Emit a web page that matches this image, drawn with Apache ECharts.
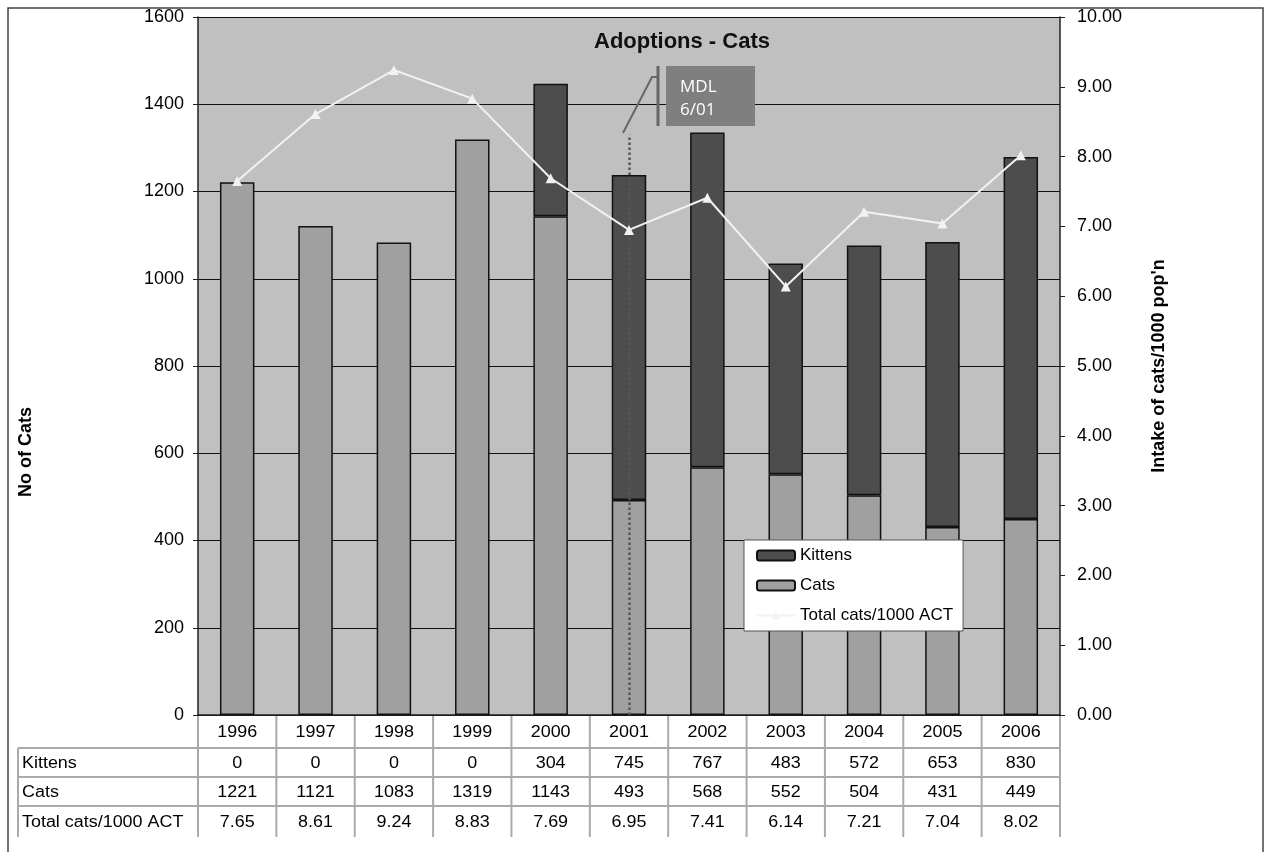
<!DOCTYPE html>
<html>
<head>
<meta charset="utf-8">
<script src="https://cdn.jsdelivr.net/npm/echarts@6/dist/echarts.min.js"></script>
<style>
    html, body { margin: 0; padding: 0; background: #fff; }
    #chart { width: 1265px; height: 852px; }
</style>
</head>
<body>
<div id="chart"></div>
<script>
    // 数据
    var years = ['1996', '1997', '1998', '1999', '2000', '2001', '2002', '2003', '2004', '2005', '2006'];
    var kittens = [0, 0, 0, 0, 304, 745, 767, 483, 572, 653, 830];
    var cats = [1221, 1121, 1083, 1319, 1143, 493, 568, 552, 504, 431, 449];
    var totalPer1000 = [7.65, 8.61, 9.24, 8.83, 7.69, 6.95, 7.41, 6.14, 7.21, 7.04, 8.02];
    var tableRows = ['Kittens', 'Cats', 'Total cats/1000 ACT'];

    var FONT = '"Liberation Sans", Arial, sans-serif';
    var gridLeft = 198, gridRight = 1060, gridTop = 17, gridBottom = 715;
    var colW = (gridRight - gridLeft) / years.length;

    var myChart = echarts.init(document.getElementById('chart'));

    // 数据表 (图表下方)
    var tableGraphics = [];
    var rowTops = [716, 748, 777, 806];
    var rowBottoms = [748, 777, 806, 837];
    var rowValues = [years, kittens, cats, totalPer1000.map(function (v) { return v.toFixed(2); })];
    var lineStyle = { stroke: '#aaaaaa', lineWidth: 2 };
    // 横线
    tableGraphics.push({ type: 'line', shape: { x1: gridLeft, y1: 748, x2: gridRight, y2: 748 }, style: lineStyle });
    [748, 777, 806].forEach(function (y) {
        tableGraphics.push({ type: 'line', shape: { x1: 18, y1: y, x2: gridRight, y2: y }, style: lineStyle });
    });
    // 竖线
    tableGraphics.push({ type: 'line', shape: { x1: 18, y1: 748, x2: 18, y2: 837 }, style: lineStyle });
    for (var c = 0; c <= years.length; c++) {
        var x = gridLeft + c * colW;
        tableGraphics.push({ type: 'line', shape: { x1: x, y1: 716, x2: x, y2: 837 }, style: lineStyle });
    }
    rowValues.forEach(function (vals, r) {
        var cy = (rowTops[r] + rowBottoms[r]) / 2 + 1;
        if (r > 0) {
            tableGraphics.push({
                type: 'text', x: 22, y: cy, scaleX: 1.12,
                style: { text: tableRows[r - 1], font: '16px ' + FONT, fill: '#000', textVerticalAlign: 'middle' }
            });
        }
        vals.forEach(function (v, i) {
            tableGraphics.push({
                type: 'text', x: gridLeft + (i + 0.5) * colW, y: cy, scaleX: 1.12,
                style: { text: String(v), font: '16px ' + FONT, fill: '#000', textAlign: 'center', textVerticalAlign: 'middle' }
            });
        });
    });

    var option = {
        backgroundColor: '#ffffff',
        textStyle: { fontFamily: FONT },
        animation: false,
        title: {
            text: 'Adoptions - Cats',
            left: 677,
            top: 26,
            textAlign: 'center',
            textStyle: { fontSize: 22, fontWeight: 'bold', color: '#111', fontFamily: FONT }
        },
        legend: {
            orient: 'vertical',
            left: 744,
            top: 540,
            padding: [7, 10, 7, 12],
            itemGap: 13,
            itemWidth: 38,
            itemHeight: 10,
            backgroundColor: '#ffffff',
            borderColor: '#555555',
            borderWidth: 1,
            textStyle: { fontSize: 17, color: '#000', fontFamily: FONT },
            data: ['Kittens', 'Cats', 'Total cats/1000 ACT']
        },
        grid: {
            left: gridLeft,
            right: 1265 - gridRight,
            top: gridTop,
            bottom: 852 - gridBottom,
            show: true,
            backgroundColor: '#c0c0c0',
            borderWidth: 0
        },
        xAxis: {
            type: 'category',
            data: years,
            axisLine: { lineStyle: { color: '#222', width: 1.5 } },
            axisTick: { show: false },
            axisLabel: { show: false }
        },
        yAxis: [
            {
                type: 'value',
                min: 0,
                max: 1600,
                interval: 200,
                position: 'left',
                axisLine: { show: true, lineStyle: { color: '#222', width: 1.5 } },
                axisTick: { show: true, length: 5, lineStyle: { color: '#222' } },
                axisLabel: { fontSize: 18, color: '#000', margin: 14, formatter: function (v) { return String(v); } },
                splitLine: { lineStyle: { color: '#111', width: 1 } }
            },
            {
                type: 'value',
                min: 0,
                max: 10,
                interval: 1,
                position: 'right',
                name: "Intake of cats/1000 pop'n",
                nameLocation: 'middle',
                nameGap: 90,
                nameTextStyle: { fontSize: 18, fontWeight: 'bold', color: '#000' },
                axisLine: { show: true, lineStyle: { color: '#222', width: 1.5 } },
                axisTick: { show: true, length: 5, lineStyle: { color: '#222' } },
                axisLabel: { fontSize: 18, color: '#000', margin: 17, formatter: function (v) { return v.toFixed(2); } },
                splitLine: { show: false }
            }
        ],
        series: [
            {
                name: 'Cats',
                type: 'bar',
                stack: 'total',
                barWidth: '44%',
                data: cats,
                itemStyle: { color: '#a0a0a0', borderColor: '#111', borderWidth: 1.5 },
                markLine: {
                    silent: true,
                    symbol: 'none',
                    label: { show: false },
                    lineStyle: { color: '#555', type: 'dotted', width: 2.5 },
                    data: [[{ coord: ['2001', 0] }, { coord: ['2001', 1330] }]]
                }
            },
            {
                name: 'Kittens',
                type: 'bar',
                stack: 'total',
                barWidth: '44%',
                // 0 值不画 (避免零高度边框)
                data: kittens.map(function (v) { return v === 0 ? '-' : v; }),
                itemStyle: { color: '#4d4d4d', borderColor: '#111', borderWidth: 1.5 }
            },
            {
                name: 'Total cats/1000 ACT',
                type: 'line',
                yAxisIndex: 1,
                data: totalPer1000,
                symbol: 'triangle',
                symbolSize: 10,
                z: 5,
                lineStyle: { color: '#f2f2f2', width: 2 },
                itemStyle: { color: '#f2f2f2' }
            }
        ],
        graphic: [
            // 外框
            { type: 'rect', shape: { x: 8, y: 8, width: 1255, height: 860 }, style: { fill: 'none', stroke: '#444', lineWidth: 1.5 }, z: 0 },
            // 左轴标题
            {
                type: 'text', x: 26, y: 452, rotation: Math.PI / 2,
                style: { text: 'No of Cats', font: 'bold 18px ' + FONT, fill: '#000', textAlign: 'center', textVerticalAlign: 'middle' }
            },
            // MDL 6/01 注释
            { type: 'rect', shape: { x: 666, y: 66, width: 89, height: 60 }, style: { fill: '#7f7f7f' }, z: 10 },
            { type: 'line', shape: { x1: 658, y1: 66, x2: 658, y2: 126 }, style: { stroke: '#666', lineWidth: 3 }, z: 10 },
            { type: 'polyline', shape: { points: [[658, 77], [652, 77], [623, 133]] }, style: { stroke: '#666', lineWidth: 2, fill: 'none' }, z: 10 },
            {
                type: 'text', x: 680, y: 99, z: 11,
                style: { text: 'MDL\n6/01', font: '17px "Open Sans", ' + FONT, fill: '#fff', textVerticalAlign: 'middle', lineHeight: 23 }
            }
        ].concat(tableGraphics)
    };

    myChart.setOption(option);

    window.addEventListener('resize', function () {
        myChart.resize();
    });
</script>
</body>
</html>
